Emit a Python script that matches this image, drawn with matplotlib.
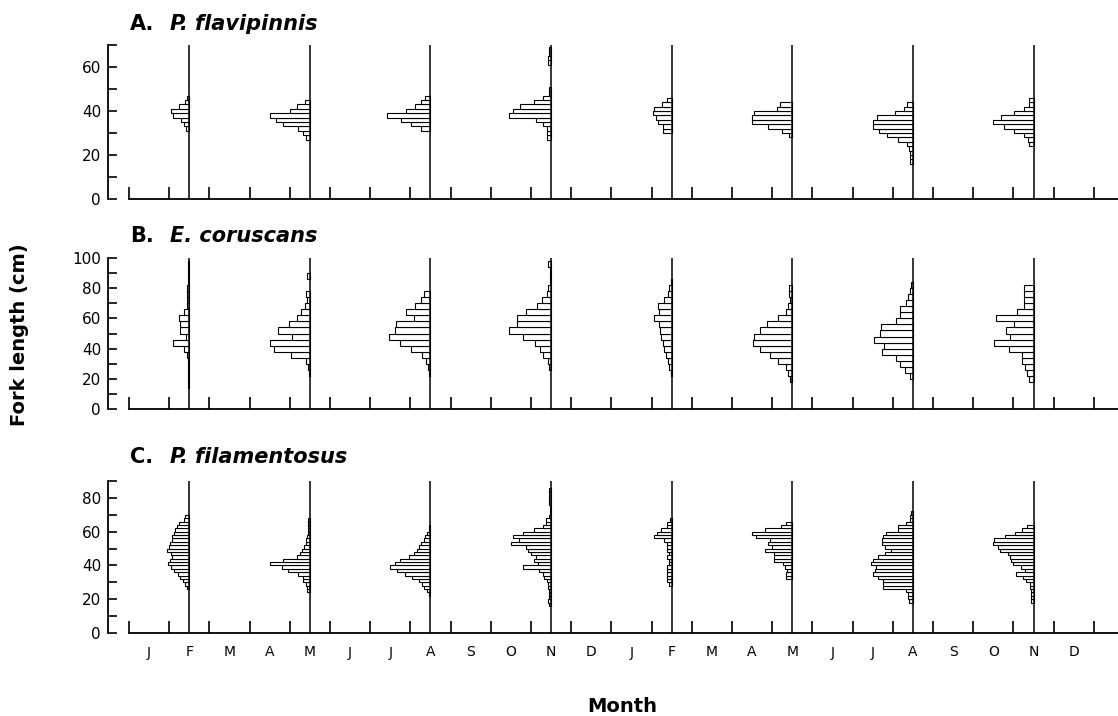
import numpy as np
import matplotlib.pyplot as plt

# month axis: two years, Jan..Dec twice
month_labels = list("JFMAMJJASOND") * 2
sample_idx = [1, 4, 7, 10, 13, 16, 19, 22]   # Feb, May, Aug, Nov of both years

# A. P. flavipinnis (2 cm classes), lowest class edge and bar lengths per sample
flav_start = [31, 27, 31, 27, 30, 28, 16, 24]
flav_freq = [
    [3.3, 5.3, 8, 16, 18.7, 10, 4.3, 2],
    [3.7, 7, 12, 27, 33.7, 40.3, 20.3, 12.7, 5.3],
    [9, 19, 29, 43, 24, 15.7, 9, 5.7],
    [4, 4, 4, 8.3, 15, 41.7, 38.3, 30.7, 16.7, 8.3, 2.3, 2.3, 0, 0, 0, 0, 0, 3.5, 3.5, 2, 2],
    [8.3, 8.3, 14, 16, 18.3, 17.3, 9.3, 5],
    [3.3, 10.7, 24, 40, 40, 38.3, 15, 12.7],
    [2.7, 2.7, 3.3, 4.3, 6, 15.3, 26, 34.3, 40, 40, 36, 17.7, 9.3, 6],
    [4.3, 6, 9.3, 19.3, 29.3, 40.3, 32.7, 19.3, 9.3, 5, 5],
]

# B. E. coruscans (4 cm classes)
cor_start = [14, 22, 22, 26, 22, 18, 20, 18]
cor_freq = [
    [1, 1, 1, 1, 1, 2, 5, 16, 3, 9, 9, 10, 5, 2, 2, 2.5, 2.5, 1, 1, 1, 1],
    [1, 2, 4.3, 19.3, 36, 40, 17.7, 32, 21, 12.7, 9.3, 5.3, 2.7, 4.3, 0, 0, 3.3],
    [1.7, 2.3, 4, 8.3, 19, 30, 41, 35, 34, 16.7, 24.3, 15.7, 9, 6.7],
    [1.7, 2.7, 7.7, 11, 16, 28, 41.7, 34.3, 33.7, 25, 14.3, 9.3, 4.3, 2.7, 1, 1, 1, 2.7],
    [1, 2.3, 4, 5.7, 7.3, 9, 10.7, 11.3, 12.3, 17.3, 12.3, 13.3, 7.3, 4, 2.3, 1],
    [2, 4, 6.7, 14.7, 22.3, 32.3, 39, 38, 32.3, 25.7, 14.7, 6.7, 4, 2, 3.3, 3.3],
    [3.3, 8.3, 13.3, 17.3, 30.7, 29.3, 39.3, 32.7, 31.7, 17.3, 12.7, 12.7, 7.3, 5, 3.3, 2],
    [4.3, 6.7, 8.7, 12, 12, 24.3, 40, 23.3, 27.7, 19.3, 37.7, 16.7, 10, 9.3, 9.3, 9.3],
]

# C. P. filamentosus (2 cm classes)
fil_start = [26, 24, 22, 16, 28, 32, 18, 18]
fil_freq = [
    [2.5, 4, 6, 9, 11, 15, 18, 21, 19, 17, 18, 22, 20, 19, 17, 17, 15, 14, 12, 10, 5, 4],
    [2.7, 2.7, 4, 6.7, 6.7, 11.7, 21.7, 28.3, 40, 26.7, 13.3, 10, 8.3, 6, 4, 4, 3, 2, 2, 2, 2, 1.7],
    [1.7, 3.3, 6.7, 8, 11.7, 18, 25, 33, 40, 35, 30, 21.7, 16.7, 13.3, 11, 9, 6.7, 5, 3.3, 1.7, 1.7],
    [1.7, 3.3, 2.3, 2.3, 2.3, 3.3, 3.3, 4.3, 6.7, 8.3, 11.7, 27.7, 13.3, 16.7, 15, 20, 23.3, 25,
     40, 32.3, 38.3, 28.3, 16.7, 8.3, 5, 5, 2.3, 1, 1, 1, 2.3, 2.3, 2.3, 2.3, 2.3],
    [2.7, 4.3, 5, 5, 4.3, 4.3, 2.7, 2.7, 4.3, 2.7, 4.3, 4.3, 5, 7.7, 17.7, 14.3, 11, 4.3, 4.3, 1.7],
    [6, 6, 5, 7.7, 9.3, 18.3, 18.3, 18.3, 27.7, 20.3, 24.3, 22.7, 36, 40.3, 27.7, 11.7, 6],
    [4, 5, 5, 7.3, 30, 30, 30, 35, 40, 38.3, 36.7, 41.7, 40, 35, 28.3, 21.7, 28.3, 30.7, 30.7,
     30, 27.3, 15, 15, 7.3, 3.3, 3.3, 2],
    [2.3, 2.3, 3, 3, 4, 4, 7.3, 10.7, 17.3, 9, 12.3, 20.7, 22.3, 24, 25.7, 34, 35.7, 40.7, 39.7,
     29, 19, 12, 6.3],
]

W, H = 1118, 716
FREQ_SCALE = 1 / 40.2   # months of axis per unit of bar length

panels = [
    # letter, species, start, freq, bin width, ymax, top px, bottom px, title y px
    ("A.", "P. flavipinnis", flav_start, flav_freq, 2, 70, 45, 199, 24),
    ("B.", "E. coruscans", cor_start, cor_freq, 4, 100, 258, 409, 236),
    ("C.", "P. filamentosus", fil_start, fil_freq, 2, 90, 481, 633, 457),
]

fig = plt.figure(figsize=(W / 100, H / 100), dpi=100)
fig.patch.set_facecolor("white")

xmin, xmax = -0.52, 24.6
for k, (letter, species, starts, freqs, bw, ymax, top, bot, ty) in enumerate(panels):
    ax = fig.add_axes([108 / W, 1 - bot / H, (W - 108) / W, (bot - top) / H])
    ax.set_xlim(xmin, xmax)
    ax.set_ylim(0, ymax)
    for s in ("top", "right"):
        ax.spines[s].set_visible(False)
    ax.spines["left"].set_bounds(0, ymax)
    ax.spines["bottom"].set_bounds(0, xmax)
    for s in ("left", "bottom"):
        ax.spines[s].set_linewidth(1.3)

    # histograms drawn leftwards from each sampling month
    for m, st, fr in zip(sample_idx, starts, freqs):
        xc = m + 0.5
        fr = np.array(fr, dtype=float)
        lows = st + bw * np.arange(len(fr))
        keep = fr > 0
        ax.barh(lows[keep], -fr[keep] * FREQ_SCALE, left=xc, height=bw, align="edge",
                color="white", edgecolor="black", linewidth=0.8, zorder=2)
        ax.vlines(xc, 0, ymax, color="black", linewidth=1.1, zorder=3)

    ax.set_yticks(np.arange(0, ymax + 1, 20))
    ax.set_yticks(np.arange(10, ymax + 1, 10), minor=True)
    ax.tick_params(axis="y", which="both", direction="in", length=6.5, width=1.2,
                   labelsize=11, pad=5)
    ax.set_xticks(np.arange(0, 25))
    ax.tick_params(axis="x", which="major", direction="in", length=8.5, width=1.2,
                   labelbottom=False)
    if k == 2:
        ax.set_xticks(np.arange(24) + 0.5, minor=True)
        ax.set_xticklabels(month_labels, minor=True)
        ax.tick_params(axis="x", which="minor", length=0, pad=9, labelsize=10)
    else:
        ax.tick_params(axis="x", which="minor", length=0, labelbottom=False)

    fig.text(130 / W, 1 - ty / H, letter, fontsize=15, fontweight="bold", va="center")
    fig.text(170 / W, 1 - ty / H, species, fontsize=15, fontweight="bold",
             fontstyle="italic", va="center")

fig.text(20 / W, 1 - 335 / H, "Fork length (cm)", rotation=90, fontsize=14,
         fontweight="bold", va="center", ha="center")
fig.text(622 / W, 1 - 706 / H, "Month", fontsize=14, fontweight="bold",
         va="center", ha="center")

fig.savefig("out.png", dpi=100, facecolor="white")
